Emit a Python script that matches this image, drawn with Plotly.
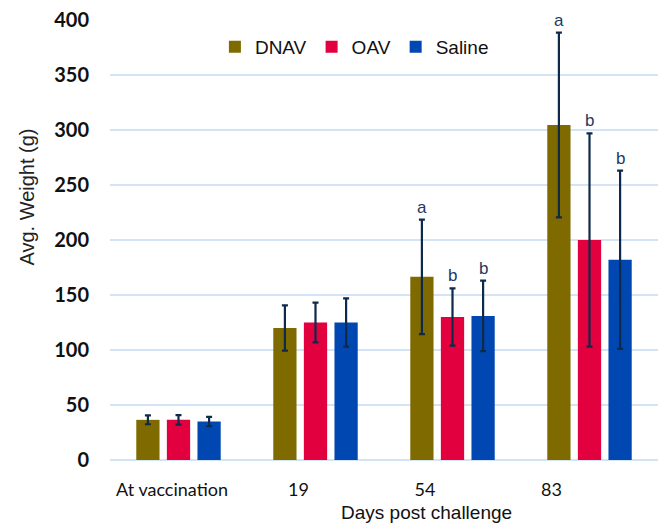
import plotly.graph_objects as go

# Time points and group means (g) with standard deviations
timepoints = ["At vaccination", "19", "54", "83"]
groups = ["DNAV", "OAV", "Saline"]
dnav_mean = [36.5, 120, 166.5, 304.5]
dnav_sd = [4, 20.5, 52, 84]
oav_mean = [36.5, 125, 130, 200]
oav_sd = [4.3, 18, 26, 97]
saline_mean = [35, 125, 131, 182]
saline_sd = [4.2, 22, 32, 81]

# Significance letters per group (blank where none reported)
dnav_sig = ["", "", "a", "a"]
oav_sig = ["", "", "b", "b"]
saline_sig = ["", "", "b", "b"]

colors = ["#7F6A00", "#E2003F", "#0047B2"]
err_color = "#0E2A4A"
letter_color = "#1F3A5F"

means = [dnav_mean, oav_mean, saline_mean]
sds = [dnav_sd, oav_sd, saline_sd]
sigs = [dnav_sig, oav_sig, saline_sig]

BARGAP = 0.33
BARGROUPGAP = 0.24
slot = (1 - BARGAP) / len(groups)

x = list(range(len(timepoints)))

fig = go.Figure()
for name, m, s, c in zip(groups, means, sds, colors):
    fig.add_trace(go.Bar(
        name=name, x=x, y=m,
        marker=dict(color=c, line=dict(width=0)),
        error_y=dict(type="data", array=s, visible=True,
                     color=err_color, thickness=2.2, width=3),
    ))

# letters above the upper whisker of each bar
annotations = []
for gi, (m, s, sg) in enumerate(zip(means, sds, sigs)):
    for ci in range(len(timepoints)):
        if sg[ci]:
            annotations.append(dict(
                x=ci + (gi - 1) * slot, y=m[ci] + s[ci],
                xref="x", yref="y", text=sg[ci], showarrow=False,
                yanchor="bottom", yshift=1,
                font=dict(family="Liberation Sans, Arial", size=17, color=letter_color),
            ))

# y-axis title
annotations.append(dict(
    x=-0.152, y=0.598, xref="paper", yref="paper", text="Avg. Weight (g)",
    textangle=-90, showarrow=False, xanchor="center", yanchor="middle",
    font=dict(family="Liberation Sans, Arial", size=20, color="#222222"),
))

# x-axis title
annotations.append(dict(
    x=0.577, y=-0.12, xref="paper", yref="paper", text="Days post challenge",
    showarrow=False, xanchor="center", yanchor="middle",
    font=dict(family="Liberation Sans, Arial", size=19, color="#111111"),
))

# category labels run on a slightly tighter pitch than the bar groups
label_start, label_pitch = -0.047, 0.923
tickvals = [label_start + label_pitch * i for i in range(len(timepoints))]

fig.update_layout(
    width=666, height=526,
    margin=dict(l=110, r=8, t=20, b=66),
    paper_bgcolor="white", plot_bgcolor="white",
    barmode="group", bargap=BARGAP, bargroupgap=BARGROUPGAP,
    showlegend=True,
    legend=dict(orientation="h", x=0.446, xanchor="center", y=0.939, yanchor="middle",
                font=dict(family="Liberation Sans, Arial", size=19, color="#111111"),
                itemwidth=30, bgcolor="rgba(255,255,255,0)", traceorder="normal"),
    xaxis=dict(range=[-0.5, 3.5], tickmode="array", tickvals=tickvals, ticktext=timepoints,
               showgrid=False, zeroline=False, showline=False, ticks="",
               ticklabelstandoff=17,
               tickfont=dict(family="Lato, Carlito, sans-serif", size=18, color="#111111")),
    yaxis=dict(range=[0, 400], dtick=50, showgrid=True, gridcolor="#D2E4F6", gridwidth=1.5,
               zeroline=True, zerolinecolor="#D2E4F6", zerolinewidth=1.5, showline=False,
               ticks="", ticklabelstandoff=20,
               tickfont=dict(family="Lato, Carlito, sans-serif", size=20, color="#111111",
                             weight="bold")),
    annotations=annotations,
)

fig.write_html("out.html")
